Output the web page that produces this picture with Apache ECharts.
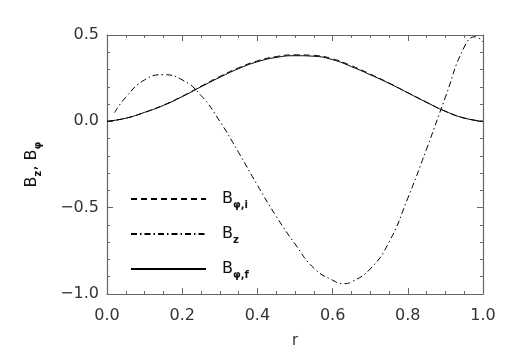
<!DOCTYPE html>
<html>
<head>
<meta charset="utf-8">
<script src="https://cdn.jsdelivr.net/npm/echarts@6/dist/echarts.min.js"></script>
<style>
    html, body { margin: 0; padding: 0; background: #fff; }
    #chart { width: 518px; height: 354px; }
</style>
</head>
<body>
<div id="chart"></div>
<script>
// 数据：半径 r 与磁场分量
const rPhi = [0, 0.05, 0.1, 0.15, 0.2, 0.25, 0.3, 0.35, 0.4, 0.45, 0.5,
              0.55, 0.6, 0.65, 0.7, 0.75, 0.8, 0.85, 0.9, 0.95, 1.0];
const bPhiI = [0, 0.018, 0.052, 0.094, 0.145, 0.203, 0.26, 0.31, 0.35, 0.375, 0.385,
               0.382, 0.362, 0.322, 0.274, 0.222, 0.166, 0.11, 0.058, 0.019, 0];
const bPhiF = [0, 0.018, 0.052, 0.092, 0.143, 0.2, 0.255, 0.305, 0.345, 0.37, 0.38,
               0.377, 0.357, 0.317, 0.27, 0.22, 0.165, 0.11, 0.058, 0.019, 0];
const rZ = [0.02, 0.05, 0.1, 0.15, 0.2, 0.25, 0.3, 0.35, 0.4, 0.45, 0.5,
            0.55, 0.6, 0.63, 0.65, 0.7, 0.75, 0.8, 0.85, 0.9, 0.95, 0.98, 1.0];
const bZ = [0.05, 0.14, 0.24, 0.27, 0.24, 0.15, 0.0, -0.18, -0.37, -0.55, -0.71,
            -0.85, -0.92, -0.94, -0.93, -0.855, -0.7, -0.445, -0.16, 0.14, 0.43, 0.49, 0.46];
const xTicks = [0, 0.2, 0.4, 0.6, 0.8, 1.0];
const yTicks = [-1.0, -0.5, 0.0, 0.5];

const pair = (xs, ys) => xs.map((x, i) => [x, ys[i]]);

const axisColor = '#666';
const textColor = '#333';
const fontFamily = 'DejaVu Sans';

function fmt(v) {
    const s = Math.abs(v).toFixed(1);
    return v < 0 ? '\u2212' + s : s;
}

const subRich = {
    b: { fontSize: 16, fontFamily: fontFamily, color: '#111', lineHeight: 22 },
    s: { fontSize: 10, fontFamily: fontFamily, fontWeight: 'bold', color: '#111',
         lineHeight: 22, verticalAlign: 'bottom' }
};

const legendNames = {
    phiI: '{b|B}{s|\u03c6,i}',
    z: '{b|B}{s|z}',
    phiF: '{b|B}{s|\u03c6,f}'
};

function initChart() {
    const chartDom = document.getElementById('chart');
    const myChart = echarts.init(chartDom);

    const baseX = {
        type: 'value',
        min: 0,
        max: 1,
        interval: 0.2,
        axisLine: { onZero: false, lineStyle: { color: axisColor, width: 1.2 } },
        axisTick: { inside: true, length: 6, lineStyle: { color: axisColor } },
        minorTick: { show: true, splitNumber: 4, length: 3, lineStyle: { color: axisColor } },
        splitLine: { show: false }
    };
    const baseY = {
        type: 'value',
        min: -1,
        max: 0.5,
        interval: 0.5,
        axisLine: { show: true, onZero: false, lineStyle: { color: axisColor, width: 1.2 } },
        axisTick: { show: true, inside: true, length: 6, lineStyle: { color: axisColor } },
        minorTick: { show: true, splitNumber: 5, length: 3, lineStyle: { color: axisColor } },
        splitLine: { show: false }
    };

    const option = {
        backgroundColor: '#fff',
        animation: false,
        grid: { left: 107, right: 35, top: 35, bottom: 59 },
        legend: {
            orient: 'vertical',
            left: 125,
            top: 186,
            itemWidth: 75,
            itemHeight: 10,
            itemGap: 16,
            selectedMode: false,
            data: ['phiI', 'z', 'phiF'],
            itemStyle: { opacity: 0 },
            formatter: name => legendNames[name],
            textStyle: { padding: [0, 0, 0, 11], rich: subRich }
        },
        xAxis: [
            Object.assign({}, baseX, {
                position: 'bottom',
                name: 'r',
                nameLocation: 'middle',
                nameGap: 40,
                nameTextStyle: { fontSize: 15, fontFamily: fontFamily, color: textColor },
                axisLabel: { margin: 14, fontSize: 16, fontFamily: fontFamily, color: textColor,
                             formatter: v => fmt(v) }
            }),
            Object.assign({}, baseX, {
                position: 'top',
                axisLabel: { show: false }
            })
        ],
        yAxis: [
            Object.assign({}, baseY, {
                position: 'left',
                name: '{b|B}{s|z}{b|, B}{s|\u03c6}',
                nameLocation: 'middle',
                nameRotate: 90,
                nameGap: 64,
                nameTextStyle: { rich: subRich },
                axisLabel: { margin: 8, fontSize: 16, fontFamily: fontFamily, color: textColor,
                             formatter: v => fmt(v) }
            }),
            Object.assign({}, baseY, {
                position: 'right',
                axisLabel: { show: false }
            })
        ],
        series: [
            {
                name: 'phiI',
                type: 'line',
                data: pair(rPhi, bPhiI),
                smooth: true,
                symbol: 'none',
                lineStyle: { color: '#000', width: 1, type: [6, 4] },
                itemStyle: { color: '#000' }
            },
            {
                name: 'z',
                type: 'line',
                data: pair(rZ, bZ),
                smooth: true,
                symbol: 'none',
                lineStyle: { color: '#000', width: 1, type: [6, 3, 1.5, 3] },
                itemStyle: { color: '#000' }
            },
            {
                name: 'phiF',
                type: 'line',
                data: pair(rPhi, bPhiF),
                smooth: true,
                symbol: 'none',
                lineStyle: { color: '#000', width: 1 },
                itemStyle: { color: '#000' }
            }
        ]
    };

    myChart.setOption(option);

    window.addEventListener('resize', () => {
        myChart.resize();
    });
}

document.addEventListener('DOMContentLoaded', initChart);
</script>
</body>
</html>
